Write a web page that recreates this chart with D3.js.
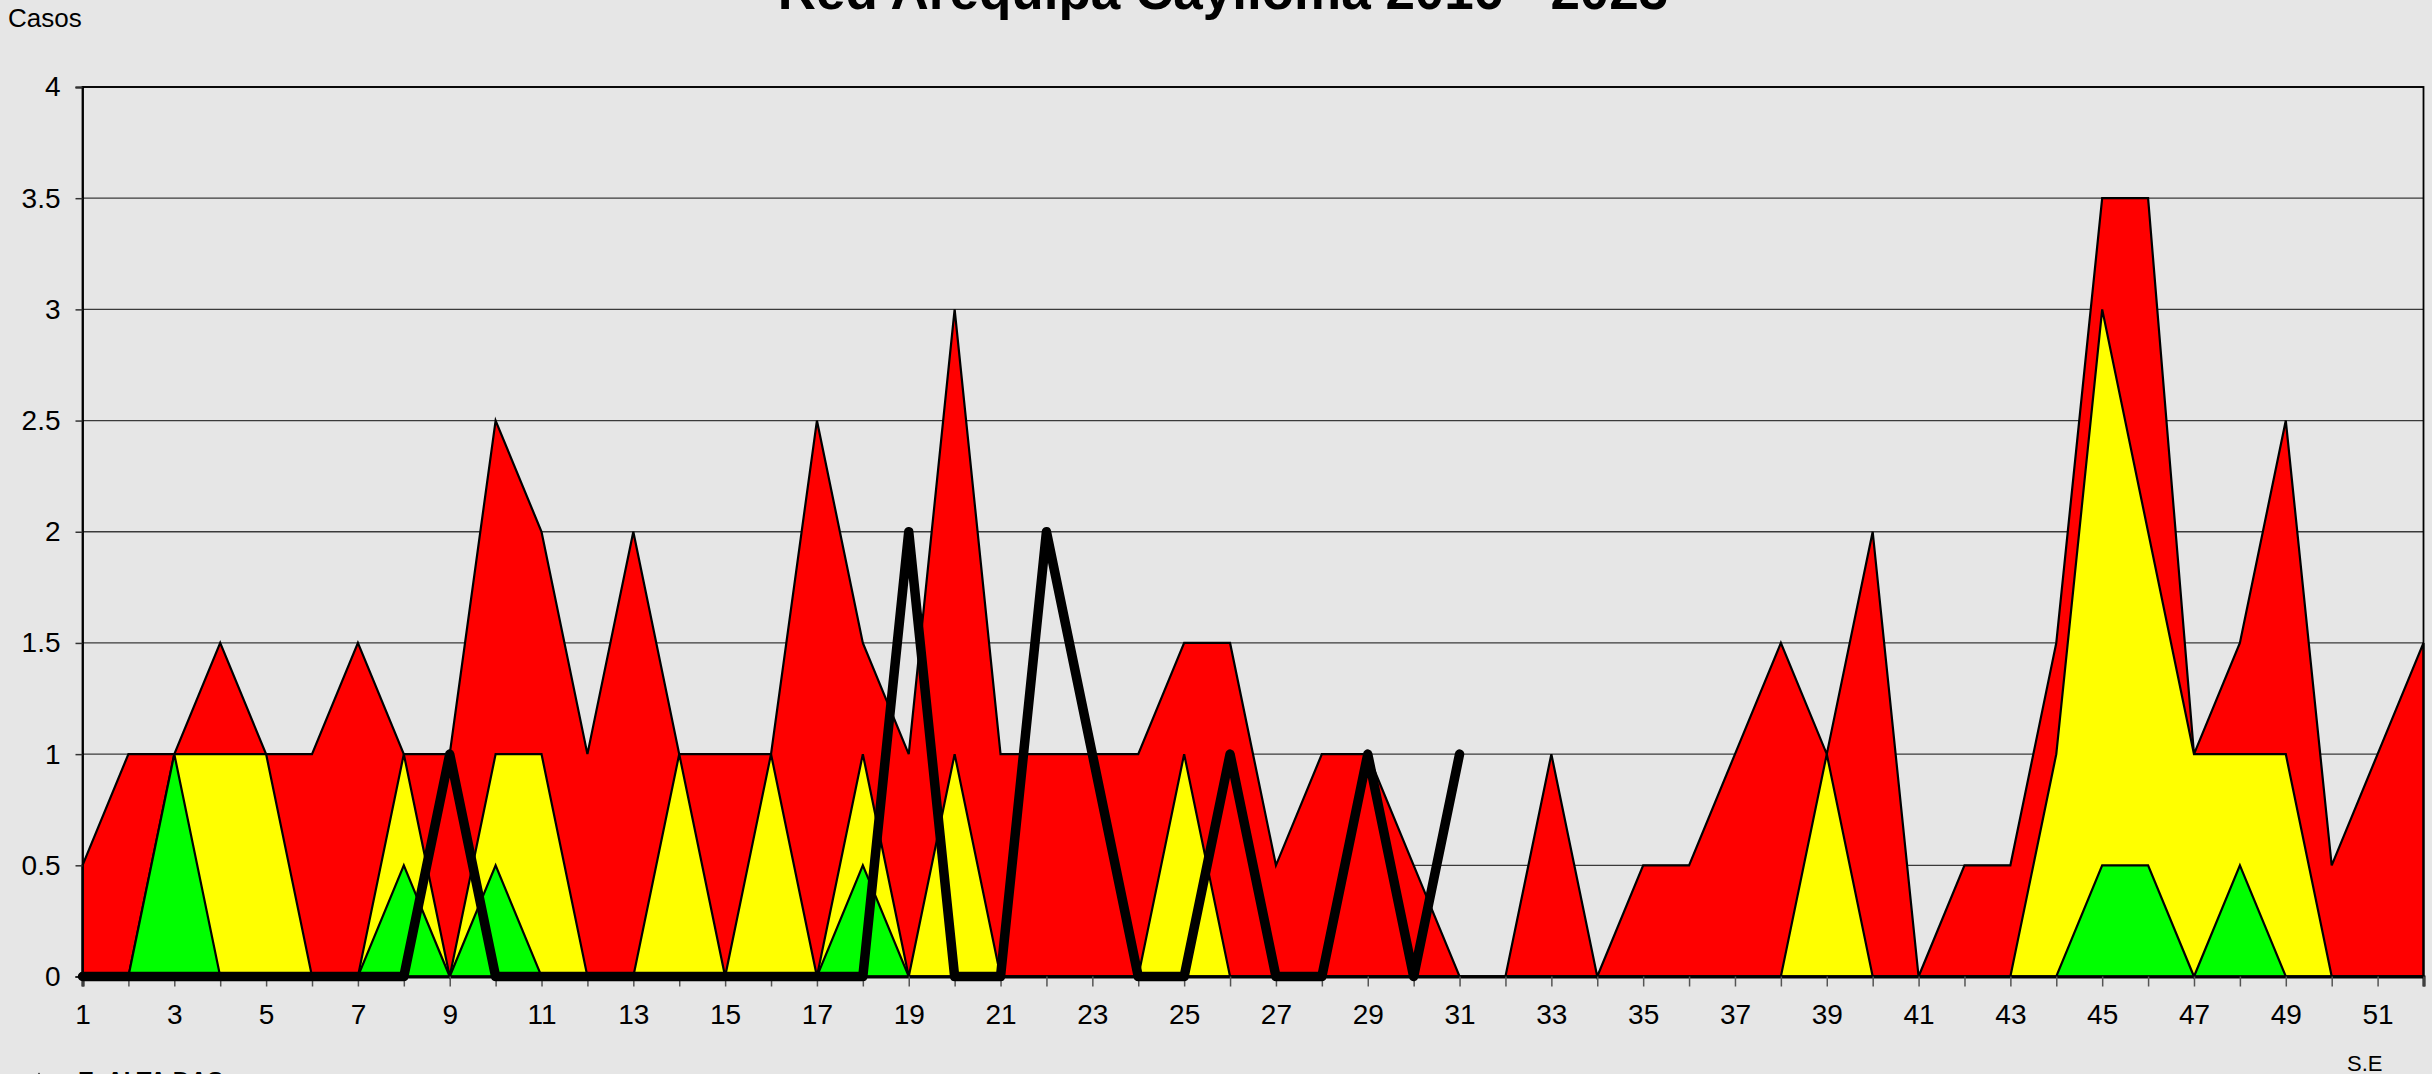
<!DOCTYPE html>
<html><head><meta charset="utf-8">
<script src="https://cdn.jsdelivr.net/npm/d3@7"></script>
<style>
html,body{margin:0;padding:0;background:#e6e6e6;overflow:hidden;}
svg{display:block;}
text{font-family:"Liberation Sans",Arial,sans-serif;}
</style></head>
<body>
<svg id="chart" width="2432" height="1074"></svg>
<script>
const weeks = d3.range(1, 53);
// Zona de alarma (rojo)
const alarma = [0.5,1,1,1.5,1,1,1.5,1,1,2.5,2,1,2,1,1,1,2.5,1.5,1,3,1,1,1,1,1.5,1.5,0.5,1,1,0.5,0,0,1,0,0.5,0.5,1,1.5,1,2,0,0.5,0.5,1.5,3.5,3.5,1,1.5,2.5,0.5,1,1.5];
// Zona de seguridad (amarillo)
const seguridad = [0,0,1,1,1,0,0,1,0,1,1,0,0,1,0,1,0,1,0,1,0,0,0,0,1,0,0,0,0,0,0,0,0,0,0,0,0,0,1,0,0,0,0,1,3,2,1,1,1,0,0,0];
// Zona de éxito (verde)
const exito = [0,0,1,0,0,0,0,0.5,0,0.5,0,0,0,0,0,0,0,0.5,0,0,0,0,0,0,0,0,0,0,0,0,0,0,0,0,0,0,0,0,0,0,0,0,0,0,0.5,0.5,0,0.5,0,0,0,0];
// Casos año actual (línea negra) hasta S.E 31
const casos = [0,0,0,0,0,0,0,0,1,0,0,0,0,0,0,0,0,0,2,0,0,2,1,0,0,1,0,0,1,0,1];
const yTicks = [0,0.5,1,1.5,2,2.5,3,3.5,4];
const xLabels = d3.range(1, 53, 2);
const title = "Red Arequipa Caylloma 2016 - 2023";

const svg = d3.select("#chart");
const L = 82.5, R = 2423.5, T = 87, B = 976.5;
const x = d3.scaleLinear().domain([1, 52]).range([L, R]);
const y = d3.scaleLinear().domain([0, 4]).range([B, T]);

svg.append("rect").attr("width", 2432).attr("height", 1074).attr("fill", "#e6e6e6");

// gridlines
svg.append("g").selectAll("line").data(yTicks).join("line")
  .attr("x1", L).attr("x2", R).attr("y1", d => y(d)).attr("y2", d => y(d))
  .attr("stroke", "#3a3a3a").attr("stroke-width", 1.3);

const area = d3.area().x((d, i) => x(weeks[i])).y0(y(0)).y1(d => y(d));
[[alarma, "#ff0000"], [seguridad, "#ffff00"], [exito, "#00ff00"]].forEach(([data, col]) => {
  svg.append("path").datum(data).attr("d", area)
    .attr("fill", col).attr("stroke", "#000").attr("stroke-width", 2.2).attr("stroke-linejoin", "miter");
});

// plot border
svg.append("rect").attr("x", L).attr("y", T).attr("width", R - L).attr("height", B - T)
  .attr("fill", "none").attr("stroke", "#000").attr("stroke-width", 1.8);

// y axis
const yAxis = d3.axisLeft(y).tickValues(yTicks).tickSize(7).tickPadding(15).tickFormat(d3.format("~g"));
const gy = svg.append("g").attr("transform", `translate(${L},0)`).call(yAxis);
gy.select(".domain").attr("stroke", "#000").attr("stroke-width", 1.8);
gy.selectAll(".tick line").attr("stroke", "#333").attr("stroke-width", 1.5);
gy.selectAll("text").attr("font-size", 28).attr("fill", "#000").attr("font-family", "Liberation Sans, Arial, sans-serif");

// x axis
const xAxis = d3.axisBottom(x).tickValues(weeks).tickSize(10).tickPadding(18)
  .tickFormat(d => (xLabels.includes(d) ? d : ""));
const gx = svg.append("g").attr("transform", `translate(0,${B})`).call(xAxis);
gx.select(".domain").attr("stroke", "#000").attr("stroke-width", 3);
gx.selectAll(".tick line").attr("stroke", "#555").attr("stroke-width", 1.5);
gx.selectAll("text").attr("font-size", 28).attr("fill", "#000").attr("font-family", "Liberation Sans, Arial, sans-serif");

// black line casos
const line = d3.line().x((d, i) => x(weeks[i])).y(d => y(d));
svg.append("path").datum(casos).attr("d", line)
  .attr("fill", "none").attr("stroke", "#000").attr("stroke-width", 9.5)
  .attr("stroke-linejoin", "round").attr("stroke-linecap", "round");

// texts
svg.append("text").attr("x", 8).attr("y", 27).attr("font-size", 26).attr("fill", "#000").text("Casos");
svg.append("text").attr("x", 1223).attr("y", 9).attr("text-anchor", "middle")
  .attr("font-size", 53).attr("font-weight", "bold").attr("fill", "#000").text(title);
svg.append("text").attr("x", 2347).attr("y", 1071).attr("font-size", 22).attr("fill", "#000").text("S.E");
// legend (cut at bottom)
svg.append("line").attr("x1", 30).attr("x2", 48).attr("y1", 1084).attr("y2", 1084).attr("stroke", "#000").attr("stroke-width", 3);
svg.append("path").attr("d", d3.symbol(d3.symbolTriangle, 120)()).attr("transform", "translate(39,1082)").attr("fill", "#000");
svg.append("text").attr("x", 78).attr("y", 1089).attr("font-size", 24).attr("font-weight", "bold").attr("fill", "#000").text("E. ALTA DAS");
</script>
</body></html>
